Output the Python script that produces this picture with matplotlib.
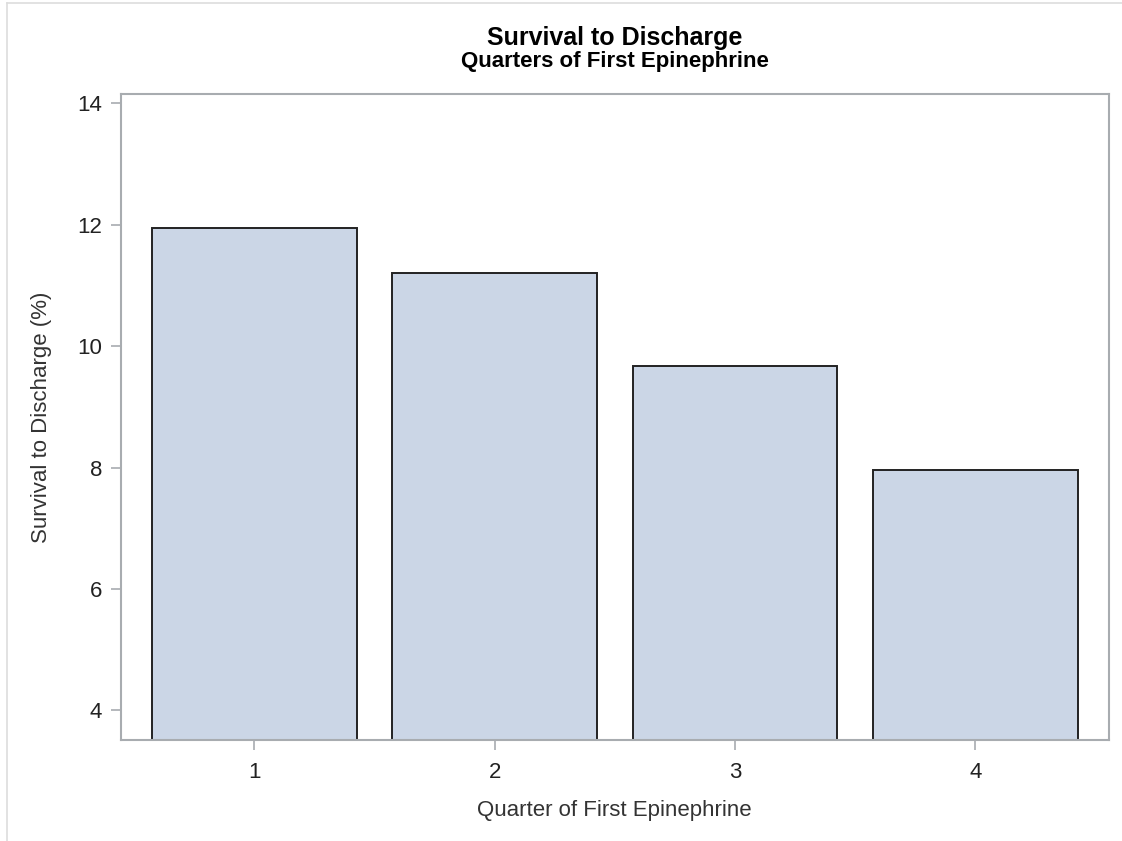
import matplotlib
matplotlib.use("Agg")
from matplotlib import pyplot as plt
from matplotlib.lines import Line2D

quarters = [1, 2, 3, 4]
survival = [11.95, 11.20, 9.67, 7.96]
y_ticks = [4, 6, 8, 10, 12, 14]

plt.rcParams['font.family'] = ['Liberation Sans', 'DejaVu Sans']

W, H = 1122, 841
fig = plt.figure(figsize=(W / 100, H / 100), dpi=100)
ax = fig.add_axes([121 / W, 1 - 740.3 / H, (1108.5 - 121) / W, (740.3 - 94.3) / H])

ax.bar(quarters, survival, width=0.852, color='#cbd6e6', edgecolor='#222222', linewidth=1.4, zorder=2)

ax.set_xlim(0.445, 4.554)
ax.set_ylim(3.506, 14.15)
ax.set_xticks(quarters)
ax.set_yticks(y_ticks)

frame_col = '#a8acb0'
for s in ax.spines.values():
    s.set_color(frame_col)
    s.set_linewidth(1.5)
ax.tick_params(axis='both', colors=frame_col, labelcolor='#222222', labelsize=16, length=7.5, width=1.2, pad=6)
ax.tick_params(axis='x', pad=8)

ax.set_xlabel('Quarter of First Epinephrine', fontsize=16, color='#333333')
ax.set_ylabel('Survival to Discharge (%)', fontsize=16, color='#333333')
ax.xaxis.set_label_coords(0.5, (740.3 - 800) / 646)
ax.yaxis.set_label_coords((52 - 121) / 987.5, 0.5)

cx = 0.5 * (121 + 1108.5) / W
fig.text(cx, 1 - 45 / H, 'Survival to Discharge', ha='center', va='baseline',
         fontsize=18, fontweight='bold', color='#000000')
fig.text(cx, 1 - 67 / H, 'Quarters of First Epinephrine', ha='center', va='baseline',
         fontsize=16, fontweight='bold', color='#000000')

# light page border
fig.add_artist(Line2D([7 / W, 1], [1 - 3 / H, 1 - 3 / H], transform=fig.transFigure, color='#dddddd', lw=1.2))
fig.add_artist(Line2D([7 / W, 7 / W], [0, 1 - 3 / H], transform=fig.transFigure, color='#dddddd', lw=1.2))

fig.savefig('out.png', dpi=100)
